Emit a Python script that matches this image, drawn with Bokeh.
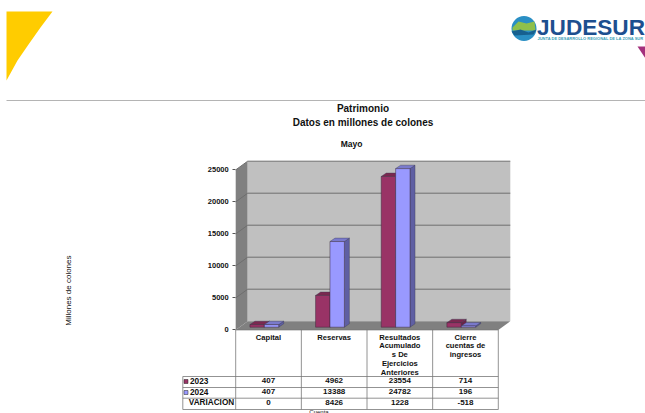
from bokeh.plotting import figure
from bokeh.embed import file_html
from bokeh.resources import INLINE
from bokeh.core.properties import value
from bokeh.models import LinearAxis, FixedTicker, Range1d

# ---- data ----
title_lines = ["Patrimonio", "Datos en millones de colones"]
subtitle = "Mayo"
y_title = "Millones  de colones"
x_title = "Cuenta"
categories = [["Capital"], ["Reservas"],
              ["Resultados", "Acumulado", "s De", "Ejercicios", "Anteriores"],
              ["Cierre", "cuentas de", "ingresos"]]
series_names = ["2023", "2024"]
values_2023 = [407, 4962, 23554, 714]
values_2024 = [407, 13388, 24782, 196]
row3_name = "VARIACION"
variacion = [0, 8426, 1228, -518]
y_ticks = [0, 5000, 10000, 15000, 20000, 25000]

# ---- layout ----
W, H = 645, 413
OX, OY = 0, 0
X0, Y0 = 235.2, 329.4    # pixel of category 0 / value 0
PX_CAT = 65.65           # px per category
PX_VAL = 32 / 5000       # px per unit
DX, DY = 12 / PX_CAT, 8.7 / PX_VAL   # chart depth in data units
BW = 14.4 / PX_CAT
BDX, BDY = 5 / PX_CAT, 3.4 / PX_VAL  # bar depth
BSX, BSY = -4.2 / PX_CAT, 2.7 / PX_VAL  # bar offset from front plane
FONT = "Liberation Sans"
MAROON, BLUE = "#993366", "#9999FF"


def fx(px):
    return (px - X0) / PX_CAT


def fy(py):
    return (Y0 - py) / PX_VAL


p = figure(width=W, height=H, output_backend="svg", toolbar_location=None,
           x_range=Range1d(fx(OX), fx(OX + W)), y_range=Range1d(fy(OY + H), fy(OY)),
           min_border=0, x_axis_location=None, y_axis_location=None, outline_line_color=None)
p.grid.visible = False
p.background_fill_color = "white"
p.border_fill_color = "white"


def poly(xs, ys, color, line=None, lw=0.6):
    p.patch([fx(x) for x in xs], [fy(y) for y in ys], fill_color=color,
            line_color=line, line_width=lw)


def hline(x1, x2, y, color="#777777", w=0.8):
    p.line([fx(x1), fx(x2)], [fy(y), fy(y)], line_color=color, line_width=w)


def vline(x, y1, y2, color="#777777", w=0.8):
    p.line([fx(x), fx(x)], [fy(y1), fy(y2)], line_color=color, line_width=w)


def txt(x, y, s, size=7.5, bold=True, align="center", color="#111111", angle=0.0, baseline="middle"):
    p.text([fx(x)], [fy(y - 1)], text=[s], text_font=value(FONT), text_font_size=f"{size}px",
           text_font_style="bold" if bold else "normal", text_align=align,
           text_baseline=baseline, text_color=color, angle=angle)


# ---- header decoration ----
poly([6, 52, 40, 28, 17, 6], [11, 11, 27, 44, 60, 80], "#FFCC00")
hline(6, 645, 100, "#b4b4b4", 1)
p.circle([fx(523.5)], [fy(28)], radius=12.5 / PX_CAT, fill_color="#2a8fc4", line_color=None)
poly([512, 518, 526, 534, 535, 512], [27, 21, 23, 21, 30, 30], "#8fc04a")
poly([511, 520, 528, 536, 533, 514], [31, 29, 32, 29, 34, 35], "#17608f")
txt(536.5, 28, "JUDESUR", 22.6, True, "left", "#1d4f8f")
txt(537, 39, "JUNTA DE DESARROLLO REGIONAL DE LA ZONA SUR", 4.0, True, "left", "#3aa0b8")
poly([637, 645, 645], [46, 46, 58], "#a3307c")

# ---- titles ----
txt(362.5, 108.5, title_lines[0], 10)
txt(362.5, 122.5, title_lines[1], 10)
txt(351, 144, subtitle, 8.5)
txt(68, 290, y_title, 8, False, angle=1.5708)
txt(318.5, 412, x_title, 6, False)

# ---- 3D chart box, from value range ----
top = y_ticks[-1]
n = len(categories)
p.patch([0, DX, DX, 0], [0, DY, top + DY, top], fill_color="#808080", line_color=None)
p.patch([DX, n + DX, n + DX, DX], [DY, DY, top + DY, top + DY], fill_color="#C0C0C0", line_color=None)
p.patch([0, n, n + DX, DX], [0, 0, DY, DY], fill_color="#808080", line_color=None)
for t in y_ticks[1:]:
    p.line([0, DX, n + DX], [t, t + DY, t + DY], line_color="#6e6e6e", line_width=1)
p.line([0, n], [0, 0], line_color="#777777", line_width=0.8)


# ---- bars ----
def bar(cat, slot, v, front, side, roof):
    x1 = cat + 0.5 + BSX + (slot - 1) * BW
    x2 = x1 + BW
    y1, y2 = BSY, BSY + v
    p.patch([x2, x2 + BDX, x2 + BDX, x2], [y1, y1 + BDY, y2 + BDY, y2], fill_color=side,
            line_color="#3c3c55", line_width=0.4)
    p.patch([x1, x2, x2 + BDX, x1 + BDX], [y2, y2, y2 + BDY, y2 + BDY], fill_color=roof,
            line_color="#3c3c55", line_width=0.4)
    p.quad(left=[x1], right=[x2], bottom=[y1], top=[y2], fill_color=front,
           line_color="#3c2a3c", line_width=0.5)


for i in range(n):
    bar(i, 0, values_2023[i], MAROON, "#6b2347", "#7a2850")
    bar(i, 1, values_2024[i], BLUE, "#5f5fa3", "#7a7acc")

# ---- table ----
col_px = [X0 + PX_CAT * i for i in range(n + 1)]
row_px = [376, 387, 397.7, 409]
for x in col_px:
    vline(x, Y0, row_px[-1])
vline(182.3, row_px[0], row_px[-1])
for y in row_px:
    hline(182.3, col_px[-1], y)

rows = [values_2023, values_2024, variacion]
row_y = [381, 392, 403]
for i in range(n):
    cx = X0 + PX_CAT * (i + 0.5)
    for j, line in enumerate(categories[i]):
        txt(cx, 337.5 + j * 8.8, line, 7.6)
    for r, y in zip(rows, row_y):
        txt(cx, y, str(r[i]), 8)
for name, y, col in zip(series_names, row_y, [MAROON, BLUE]):
    poly([183.5, 187.5, 187.5, 183.5], [y - 2, y - 2, y + 2, y + 2], col, "#222222", 0.5)
    txt(189.5, y, name, 8.3, True, "left")
txt(211, row_y[2], row3_name, 8.2)

# ---- value axis ----
ax = LinearAxis(fixed_location=0, ticker=FixedTicker(ticks=y_ticks))
ax.major_label_text_font = FONT
ax.major_label_text_font_size = "7.5px"
ax.major_label_text_font_style = "bold"
ax.major_label_text_color = "#111111"
ax.major_tick_out = 3
ax.major_tick_in = 0
ax.minor_tick_line_color = None
ax.axis_line_color = None
ax.major_tick_line_color = "#555555"
ax.major_label_standoff = 4
p.add_layout(ax, "left")

open("out.html", "w").write(file_html(p, INLINE))
